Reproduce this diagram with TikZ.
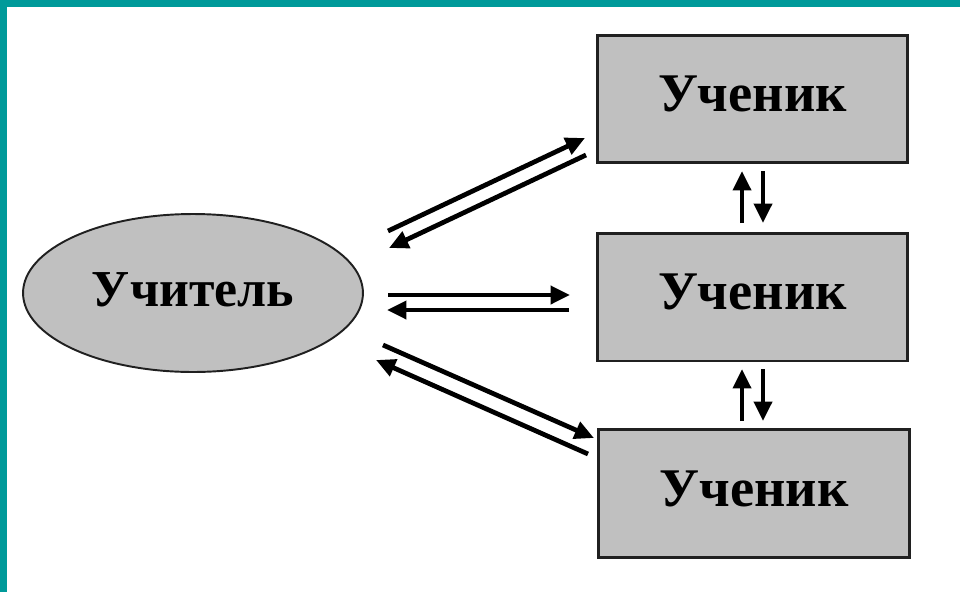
\documentclass[tikz,border=0pt]{standalone}
\usepackage{fontspec}
\setmainfont{Liberation Serif}
\usetikzlibrary{shapes.geometric,arrows.meta}
\definecolor{teal1}{HTML}{009A9A}
\definecolor{boxgrey}{HTML}{C0C0C0}
\definecolor{edgegrey}{HTML}{202020}
\tikzset{
  pupil/.style={draw=edgegrey,line width=1.7pt,fill=boxgrey,rectangle,minimum width=6.22cm,minimum height=2.56cm,inner sep=0pt,text depth=0.2cm,font=\bfseries\fontsize{31}{36}\selectfont},
  teacher/.style={draw=edgegrey,line width=1.1pt,fill=boxgrey,ellipse,minimum width=6.8cm,minimum height=3.16cm,inner sep=0pt,text depth=0.12cm,font=\bfseries\fontsize{29.5}{36}\selectfont},
  flow/.style={line width=2.7pt,-{Triangle[length=11pt,width=10pt]}}
}
\begin{document}
\begin{tikzpicture}[x=0.02cm,y=-0.02cm]
\useasboundingbox (0,0) rectangle (960,592);
\fill[white] (0,0) rectangle (960,592);
\fill[teal1] (0,0) rectangle (960,7);
\fill[teal1] (0,0) rectangle (7,592);
\node[teacher] (t) at (193,293) {Учитель};
\node[pupil] (p1) at (752.5,99) {Ученик};
\node[pupil] (p2) at (752.5,297) {Ученик};
\node[pupil] (p3) at (754,493.5) {Ученик};
% top pair
\coordinate (a1s) at (388,231);
\coordinate (a1e) at (585,138);
\coordinate (b1s) at (586,155);
\coordinate (b1e) at (389,248);
\draw[flow] (a1s) -- (a1e);
\draw[flow] (b1s) -- (b1e);
% middle pair
\coordinate (a2s) at (388,295);
\coordinate (a2e) at (570,295);
\coordinate (b2s) at (569,310);
\coordinate (b2e) at (387,310);
\draw[flow] (a2s) -- (a2e);
\draw[flow] (b2s) -- (b2e);
% bottom pair
\coordinate (a3s) at (383,345);
\coordinate (a3e) at (594,438);
\coordinate (b3s) at (588,454);
\coordinate (b3e) at (376,360);
\draw[flow] (a3s) -- (a3e);
\draw[flow] (b3s) -- (b3e);
% vertical arrows
\coordinate (u1s) at (742,223);
\coordinate (u1e) at (742,171);
\coordinate (d1s) at (763,171);
\coordinate (d1e) at (763,223);
\draw[flow] (u1s) -- (u1e);
\draw[flow] (d1s) -- (d1e);
\coordinate (u2s) at (742,421);
\coordinate (u2e) at (742,369);
\coordinate (d2s) at (763,369);
\coordinate (d2e) at (763,421);
\draw[flow] (u2s) -- (u2e);
\draw[flow] (d2s) -- (d2e);
\end{tikzpicture}
\end{document}
